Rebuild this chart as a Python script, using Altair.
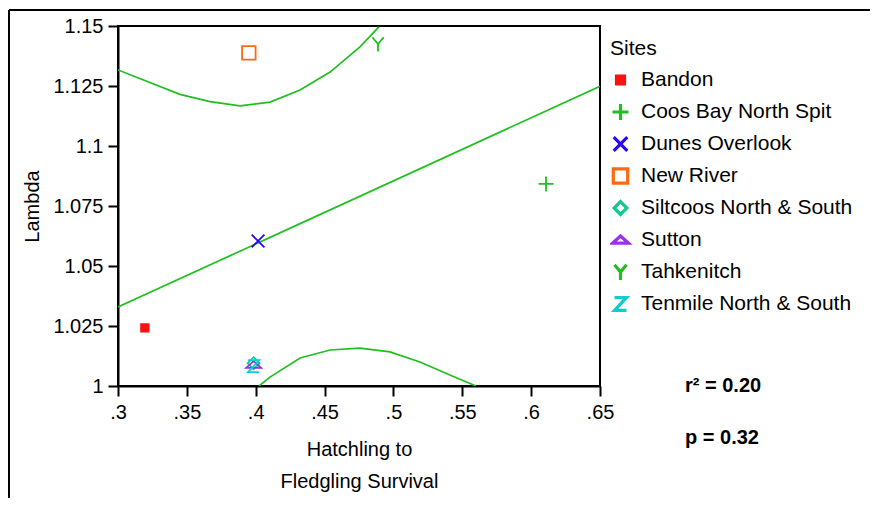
import altair as alt
import pandas as pd

# ---- data ----
sites = ["Bandon", "Coos Bay North Spit", "Dunes Overlook", "New River",
         "Siltcoos North & South", "Sutton", "Tahkenitch", "Tenmile North & South"]
survival = [0.3195, 0.6108, 0.4017, 0.3950, 0.3985, 0.3985, 0.4888, 0.3985]
lam = [1.0242, 1.0842, 1.0604, 1.1388, 1.0095, 1.0088, 1.1425, 1.0083]

stroke_colors = ["#ff1010", "#1fbf1f", "#2a0af0", "#ff6a10",
                 "#10c890", "#9a30f0", "#1fbf1f", "#10cccc"]
fill_colors = ["#ff1010", "transparent", "transparent", "transparent",
               "transparent", "transparent", "transparent", "transparent"]
shapes = [
    "M-0.5,-0.5L0.5,-0.5L0.5,0.5L-0.5,0.5Z",                  # small filled square
    "M-1,0L1,0M0,-1L0,1",                                      # plus
    "M-0.85,-0.85L0.85,0.85M-0.85,0.85L0.85,-0.85",            # X
    "M-0.9,-0.9L0.9,-0.9L0.9,0.9L-0.9,0.9Z",                   # open square
    "M0,-0.8L0.8,0L0,0.8L-0.8,0Z",                             # diamond
    "M-1,0.4L0,-0.5L1,0.4Z",                                   # flat triangle
    "M-0.75,-0.9L0,0L0.75,-0.9M0,0L0,1",                       # Y
    "M-0.75,-0.8L0.75,-0.8L-0.75,0.8L0.75,0.8",                # Z
]

fit_x = [0.30, 0.65]
fit_y = [1.0329, 1.1249]
upper_x = [0.300, 0.345, 0.3668, 0.3886, 0.4104, 0.4322, 0.454, 0.4757, 0.4895]
upper_y = [1.1317, 1.1215, 1.1185, 1.1167, 1.1183, 1.1233, 1.1308, 1.1413, 1.1496]
lower_x = [0.4024, 0.4104, 0.4322, 0.454, 0.4757, 0.4975, 0.5193, 0.541, 0.560]
lower_y = [1.0000, 1.0037, 1.0117, 1.0150, 1.0158, 1.0142, 1.0100, 1.0046, 1.0000]

x_ticks = [0.30, 0.35, 0.40, 0.45, 0.50, 0.55, 0.60, 0.65]
y_ticks = [1.0, 1.025, 1.05, 1.075, 1.1, 1.125, 1.15]

r2_text = "r\u00b2 = 0.20"
p_text = "p = 0.32"

FONT = "Liberation Sans"

# ---- tables ----
pts = pd.DataFrame({"x": survival, "y": lam, "Site": sites})
curves = pd.DataFrame({
    "x": fit_x + upper_x + lower_x,
    "y": fit_y + upper_y + lower_y,
    "curve": ["fit"] * len(fit_x) + ["upper"] * len(upper_x) + ["lower"] * len(lower_x),
})

x_enc = alt.X("x:Q",
              scale=alt.Scale(domain=[0.3, 0.65], nice=False, zero=False),
              axis=alt.Axis(values=x_ticks,
                            labelExpr="substring(format(datum.value, '.2~f'), 1)",
                            title=["Hatchling to", "Fledgling Survival"],
                            titleLineHeight=32, titlePadding=17,
                            tickSize=10, labelPadding=6, labelFlush=False))
y_enc = alt.Y("y:Q",
              scale=alt.Scale(domain=[1.0, 1.15], nice=False, zero=False),
              axis=alt.Axis(values=y_ticks, format=".3~f", title="Lambda",
                            tickSize=10, labelPadding=5, titlePadding=10,
                            labelFlush=False))

legend = alt.Legend(title="Sites", orient="none", legendX=492, legendY=12, clipHeight=24)

lines = alt.Chart(curves).mark_line(color="#1fbf1f", strokeWidth=1.7, clip=True).encode(
    x=x_enc, y=y_enc, detail="curve:N"
)

points = alt.Chart(pts).mark_point(size=225, strokeWidth=1.8, opacity=1).encode(
    x=x_enc, y=y_enc,
    shape=alt.Shape("Site:N", scale=alt.Scale(domain=sites, range=shapes), legend=legend),
    stroke=alt.Stroke("Site:N", scale=alt.Scale(domain=sites, range=stroke_colors), legend=legend),
    fill=alt.Fill("Site:N", scale=alt.Scale(domain=sites, range=fill_colors), legend=legend),
)

r2 = alt.Chart(alt.Data(values=[{"t": r2_text}])).mark_text(
    align="left", baseline="middle", font=FONT, fontSize=20, fontWeight="bold", color="black"
).encode(x=alt.value(567), y=alt.value(360), text="t:N")

pv = alt.Chart(alt.Data(values=[{"t": p_text}])).mark_text(
    align="left", baseline="middle", font=FONT, fontSize=20, fontWeight="bold", color="black"
).encode(x=alt.value(567), y=alt.value(412), text="t:N")

frame_left = alt.Chart(alt.Data(values=[{}])).mark_rule(color="black", strokeWidth=2).encode(
    x=alt.value(-109), y=alt.value(-16), y2=alt.value(472))
frame_top = alt.Chart(alt.Data(values=[{}])).mark_rule(color="black", strokeWidth=2).encode(
    x=alt.value(-109), x2=alt.value(752), y=alt.value(-16))

chart = alt.layer(lines, points, r2, pv, frame_left, frame_top).properties(
    width=482, height=360,
    autosize=alt.AutoSizeParams(type="none"),
    padding={"left": 110, "top": 18, "right": 270, "bottom": 112},
).configure_view(
    stroke="black", strokeWidth=2
).configure_axis(
    labelFont=FONT, labelFontSize=20, labelColor="black",
    titleFont=FONT, titleFontSize=20, titleFontWeight="normal", titleColor="black",
    domainColor="black", domainWidth=2, tickColor="black", tickWidth=2, grid=False,
).configure_legend(
    titleFont=FONT, titleFontSize=21, titleFontWeight="normal", titleColor="black",
    labelFont=FONT, labelFontSize=21, labelColor="black", labelLimit=400,
    symbolSize=256, symbolStrokeWidth=3.2, rowPadding=8, titlePadding=9,
    labelOffset=10, padding=0,
)

chart.save("out.html", embed_options={"renderer": "svg", "actions": False})
